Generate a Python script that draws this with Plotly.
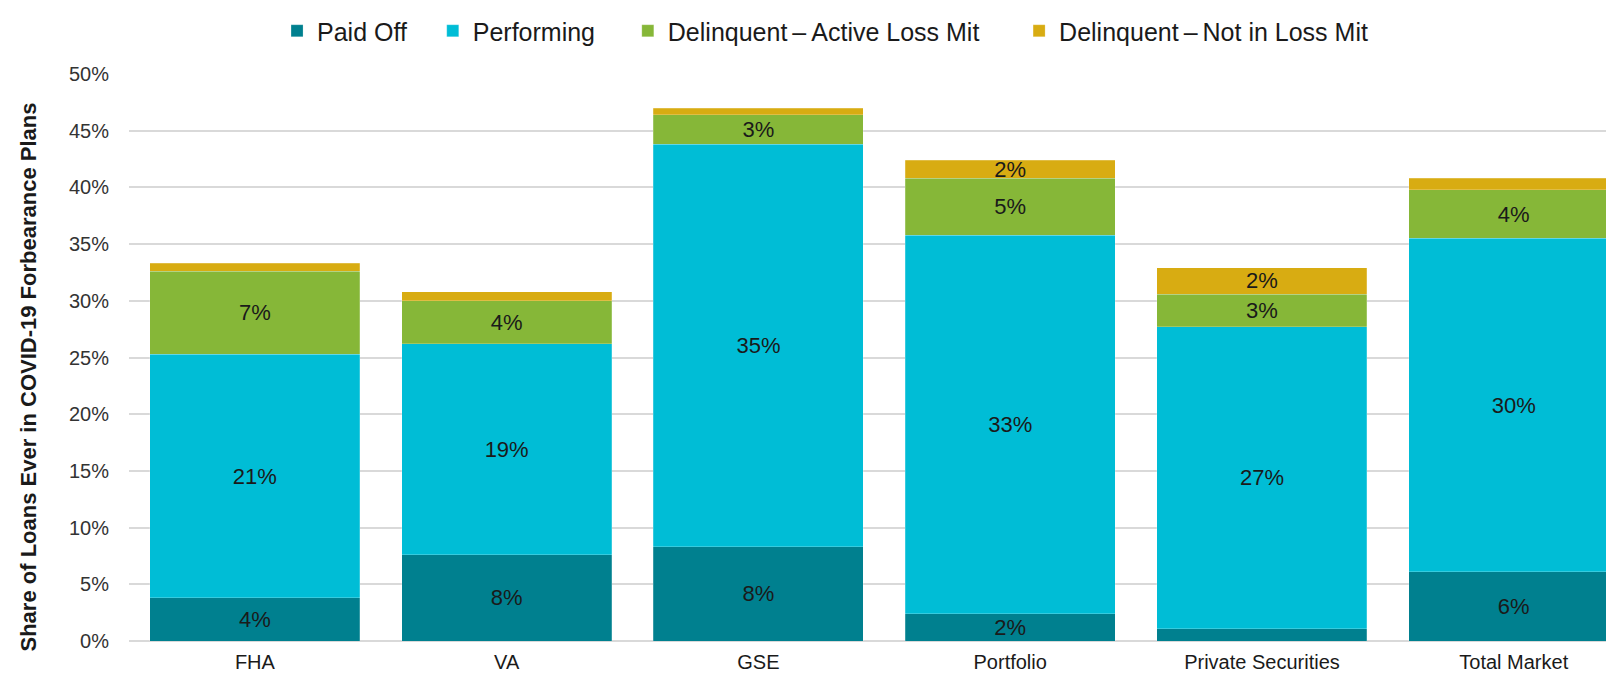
import plotly.graph_objects as go

categories = ["FHA", "VA", "GSE", "Portfolio", "Private Securities", "Total Market"]

paid_off = [0.038, 0.076, 0.083, 0.024, 0.011, 0.061]
performing = [0.215, 0.186, 0.355, 0.334, 0.266, 0.294]
active_loss_mit = [0.073, 0.038, 0.026, 0.050, 0.029, 0.043]
not_in_loss_mit = [0.007, 0.008, 0.006, 0.016, 0.023, 0.010]

paid_off_labels = ["4%", "8%", "8%", "2%", "", "6%"]
performing_labels = ["21%", "19%", "35%", "33%", "27%", "30%"]
active_labels = ["7%", "4%", "3%", "5%", "3%", "4%"]
not_in_labels = ["", "", "", "2%", "2%", ""]

NB = "\u00a0"
series = [
    ("Paid Off" + NB * 3, paid_off, paid_off_labels, "#00808F"),
    ("Performing" + NB * 4, performing, performing_labels, "#00BDD6"),
    ("Delinquent\u2009\u2013\u2009Active Loss Mit" + NB * 5, active_loss_mit, active_labels, "#86B738"),
    ("Delinquent\u2009\u2013\u2009Not in Loss Mit", not_in_loss_mit, not_in_labels, "#D8AC12"),
]

FONT = "Liberation Sans, Arial, sans-serif"

fig = go.Figure()
for name, vals, labels, color in series:
    fig.add_trace(go.Bar(
        name=name,
        x=categories,
        y=vals,
        text=labels,
        textposition="inside",
        insidetextanchor="middle",
        textangle=0,
        constraintext="none",
        textfont=dict(family=FONT, size=22, color="#1a1a1a"),
        marker=dict(color=color, line=dict(width=0.6, color="rgba(255,255,255,0.35)")),
        cliponaxis=False,
    ))

fig.update_layout(
    barmode="stack",
    bargap=0.166,
    width=1614,
    height=676,
    margin=dict(l=121, r=0, t=66, b=43),
    plot_bgcolor="white",
    paper_bgcolor="white",
    font=dict(family=FONT, size=20, color="#333333"),
    uniformtext=dict(minsize=22, mode="show"),
    legend=dict(
        orientation="h",
        x=0.4662, xanchor="center",
        y=1.076, yanchor="middle",
        yref="paper",
        font=dict(family=FONT, size=25, color="#1a1a1a"),
        traceorder="normal",
        itemwidth=30,
    ),
    showlegend=True,
    annotations=[dict(
        text="<b>Share of Loans Ever in COVID-19 Forbearance Plans</b>",
        xref="paper", yref="paper",
        x=0, y=0.5, xanchor="center", yanchor="middle",
        xshift=-101, yshift=-20,
        textangle=-90,
        showarrow=False,
        font=dict(family=FONT, size=22, color="#1a1a1a"),
    )],
)

fig.update_yaxes(
    range=[0, 0.5],
    dtick=0.05,
    tickformat=".0%",
    showgrid=True,
    gridcolor="#D9D9D9",
    gridwidth=1.5,
    zeroline=True,
    zerolinecolor="#D9D9D9",
    zerolinewidth=1.5,
    ticks="",
    ticklabelstandoff=19,
    automargin=False,
    tickfont=dict(family=FONT, size=20, color="#333333"),
)
fig.update_xaxes(
    range=[-0.5, 5.43],
    showgrid=False,
    ticks="",
    automargin=False,
    ticklabelstandoff=7,
    tickfont=dict(family=FONT, size=20, color="#1a1a1a"),
)

fig.write_html("out.html")
